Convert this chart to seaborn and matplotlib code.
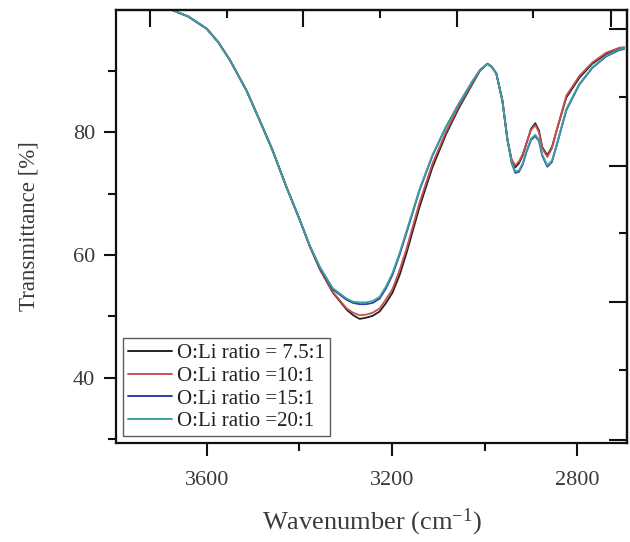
import numpy as np
import pandas as pd
import matplotlib
matplotlib.use("Agg")
import matplotlib.pyplot as plt
import seaborn as sns

# ---- data ----
wavenumber = [3690, 3673, 3640, 3600, 3575, 3550, 3514, 3486, 3458, 3428, 3399, 3378,
              3356, 3328, 3298, 3284, 3270, 3256, 3242, 3227, 3213, 3199, 3184, 3169,
              3141, 3113, 3083, 3055, 3026, 3010, 2994, 2985, 2975, 2962, 2951, 2942,
              2934, 2926, 2918, 2910, 2900, 2891, 2883, 2876, 2865, 2855, 2845, 2824,
              2796, 2768, 2738, 2710, 2699]

t_75 = [100.3, 99.9, 98.9, 96.9, 94.7, 91.8, 86.8, 82.0, 77.1, 71.1, 65.7, 61.5,
        57.7, 53.9, 51.1, 50.2, 49.6, 49.8, 50.1, 50.8, 52.2, 53.9, 56.7, 60.3,
        67.8, 74.3, 79.8, 84.1, 88.0, 90.1, 91.2, 90.7, 89.6, 85.2, 78.7, 75.5,
        74.3, 75.0, 76.3, 78.2, 80.6, 81.5, 80.3, 77.6, 76.3, 77.6, 80.3, 85.7,
        88.9, 91.2, 92.8, 93.7, 93.8]

t_10 = [100.3, 99.9, 98.9, 96.9, 94.7, 91.8, 86.8, 82.0, 77.1, 71.1, 65.7, 61.5,
        57.8, 54.0, 51.3, 50.6, 50.2, 50.3, 50.6, 51.3, 52.8, 54.5, 57.5, 61.0,
        68.5, 74.9, 80.2, 84.4, 88.2, 90.1, 91.2, 90.7, 89.6, 85.2, 78.7, 75.6,
        74.6, 75.3, 76.5, 78.3, 80.4, 81.2, 80.0, 77.4, 76.0, 77.4, 80.3, 86.0,
        89.2, 91.4, 93.0, 93.8, 93.9]

t_15 = [100.3, 99.9, 98.9, 96.9, 94.7, 91.8, 86.8, 82.0, 77.1, 71.1, 65.7, 61.6,
        58.0, 54.4, 52.7, 52.2, 52.0, 52.0, 52.2, 52.9, 54.6, 56.8, 60.0, 63.6,
        70.5, 76.2, 81.0, 84.8, 88.4, 90.2, 91.2, 90.7, 89.6, 85.2, 78.9, 75.0,
        73.4, 73.6, 74.8, 76.8, 78.8, 79.4, 78.6, 76.2, 74.4, 75.2, 77.8, 83.6,
        87.8, 90.5, 92.4, 93.4, 93.6]

t_20 = [100.3, 99.9, 98.9, 96.9, 94.7, 91.8, 86.8, 82.0, 77.1, 71.1, 65.7, 61.6,
        58.1, 54.6, 52.9, 52.4, 52.3, 52.3, 52.5, 53.2, 54.9, 57.1, 60.3, 63.9,
        70.7, 76.3, 81.0, 84.8, 88.4, 90.2, 91.2, 90.7, 89.6, 85.2, 78.9, 75.1,
        73.6, 73.8, 75.0, 77.0, 79.0, 79.6, 78.8, 76.4, 74.6, 75.4, 78.0, 83.8,
        87.9, 90.6, 92.5, 93.5, 93.7]

labels = ["O:Li ratio = 7.5:1", "O:Li ratio =10:1", "O:Li ratio =15:1", "O:Li ratio =20:1"]
colors = ["#222222", "#c8504e", "#2d3fb0", "#3f9f9c"]

# top / right frame tick positions (data coordinates)
top_major = [3723, 3393, 3059, 2727]
top_minor = [3557, 3227, 2895]
right_major = [96.9, 74.6, 52.4, 29.9]
right_minor = [85.7, 63.6, 41.3]

frames = []
for lab, t in zip(labels, [t_75, t_10, t_15, t_20]):
    frames.append(pd.DataFrame({"wn": wavenumber, "T": t, "series": lab}))
df = pd.concat(frames, ignore_index=True)

sns.set_theme(style="white")
plt.rcParams["font.family"] = ["Liberation Serif", "DejaVu Serif"]
plt.rcParams["mathtext.fontset"] = "custom"
plt.rcParams["mathtext.rm"] = "Liberation Serif"
plt.rcParams["mathtext.it"] = "Liberation Serif:italic"

fig = plt.figure(figsize=(6.30, 5.42), dpi=100)
ax = fig.add_axes([0.184, 0.183, 0.812, 0.799])

sns.lineplot(data=df, x="wn", y="T", hue="series", palette=colors,
             sort=False, estimator=None, linewidth=1.3, ax=ax, legend=False)

ax.set_xlim(3796, 2692)
ax.set_ylim(29.4, 100)

ax.set_xticks([3600, 3200, 2800])
ax.set_xticks([3400, 3000], minor=True)
ax.set_yticks([40, 60, 80])
ax.set_yticks([30, 50, 70, 90], minor=True)

ax.tick_params(axis="both", which="major", direction="out", length=9, width=1.5,
               labelsize=16, color="#111111", labelcolor="#3a3a3a",
               bottom=True, left=True, top=False, right=False, pad=6)
ax.tick_params(axis="both", which="minor", direction="out", length=6, width=1.5,
               bottom=True, left=True, top=False, right=False, color="#111111")
ax.tick_params(axis="x", which="major", pad=11)

for s in ax.spines.values():
    s.set_visible(True)
    s.set_color("#111111")
    s.set_linewidth(1.6)

secx = ax.secondary_xaxis("top")
secx.set_xticks(top_major)
secx.set_xticks(top_minor, minor=True)
secx.tick_params(which="major", direction="in", length=12, width=1.5, labeltop=False, color="#111111")
secx.tick_params(which="minor", direction="in", length=6, width=1.5, labeltop=False, color="#111111")
secx.spines["top"].set_linewidth(1.6)

secy = ax.secondary_yaxis("right")
secy.set_yticks(right_major)
secy.set_yticks(right_minor, minor=True)
secy.tick_params(which="major", direction="in", length=13, width=1.5, labelright=False, color="#111111")
secy.tick_params(which="minor", direction="in", length=6, width=1.5, labelright=False, color="#111111")
secy.spines["right"].set_linewidth(1.6)

ax.set_xlabel(r"Wavenumber (cm$^{\mathregular{-1}}$)", fontsize=19, color="#3a3a3a", labelpad=12)
ax.set_ylabel("Transmittance [%]", fontsize=16.5, color="#3a3a3a", labelpad=24)

handles = [plt.Line2D([0], [0], color=c, lw=1.4) for c in colors]
leg = ax.legend(handles, labels, loc="lower left", bbox_to_anchor=(0.005, 0.005),
                fontsize=15, frameon=True, fancybox=False, handlelength=2.1,
                handletextpad=0.25, borderpad=0.25, labelspacing=0.15,
                borderaxespad=0.2)
leg.get_frame().set_edgecolor("#333333")
leg.get_frame().set_linewidth(1.0)
for txt in leg.get_texts():
    txt.set_color("#222222")

fig.savefig("out.png", dpi=100, facecolor="white")
